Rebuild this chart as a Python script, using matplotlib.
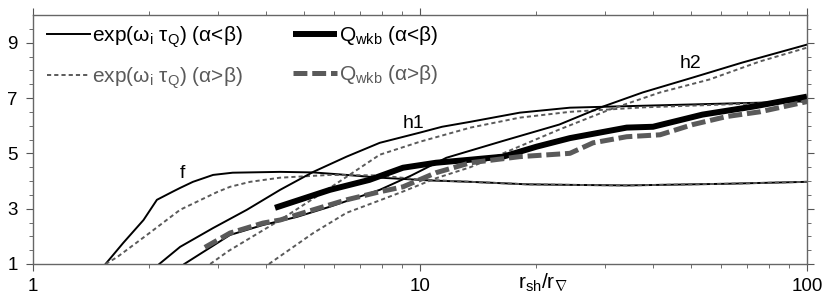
import matplotlib
matplotlib.use("Agg")
import matplotlib.pyplot as plt

plt.rcParams["font.family"] = ["Liberation Sans", "DejaVu Sans"]
plt.rcParams["mathtext.fontset"] = "custom"
plt.rcParams["mathtext.rm"] = "Liberation Sans"
plt.rcParams["mathtext.it"] = "Liberation Sans"
plt.rcParams["lines.scale_dashes"] = False

# Kurven (x = r_sh/r_grad)
f_x = [1.54, 1.71, 1.93, 2.09, 2.30, 2.40, 2.59, 2.92, 3.28, 4.35, 5.3, 6.46, 7.87, 8.9, 10.6, 13.5, 18.9, 24.4, 34.2, 62, 100]
f_y = [1.0, 1.76, 2.59, 3.32, 3.62, 3.75, 3.97, 4.22, 4.30, 4.33, 4.31, 4.22, 4.12, 4.08, 4.02, 3.97, 3.88, 3.86, 3.84, 3.9, 3.97]
fd_x = [1.54, 1.65, 2.0, 2.4, 2.99, 3.23, 3.64, 4.35, 5.85, 7.87, 10.0, 13.5, 18.9, 24.4, 34.2, 62, 100]
fd_y = [1.0, 1.25, 2.12, 2.96, 3.6, 3.79, 3.97, 4.12, 4.22, 4.2, 4.05, 3.97, 3.88, 3.86, 3.84, 3.9, 3.97]

h1_x = [2.12, 2.40, 2.92, 3.57, 4.35, 5.3, 6.46, 7.87, 10, 11.4, 13.5, 18.1, 24.4, 37.6, 75, 100]
h1_y = [1.0, 1.62, 2.30, 2.96, 3.68, 4.33, 4.88, 5.38, 5.75, 5.96, 6.14, 6.47, 6.65, 6.72, 6.83, 6.88]
h1d_x = [2.87, 3.2, 4.35, 5.85, 7.87, 10, 13.5, 18.1, 24.4, 37.6, 75, 100]
h1d_y = [1.0, 1.47, 2.59, 3.75, 4.95, 5.42, 5.93, 6.29, 6.5, 6.66, 6.81, 6.87]

h2_x = [2.46, 3.23, 3.93, 4.8, 5.85, 7.87, 9.5, 11.7, 16.4, 22.9, 29.7, 37.6, 50.7, 68, 100]
h2_y = [1.0, 2.05, 2.41, 2.7, 3.07, 3.68, 4.2, 4.84, 5.45, 6.04, 6.69, 7.2, 7.74, 8.28, 8.93]
h2d_x = [4.07, 5.3, 6.46, 7.87, 9.04, 11.0, 13.5, 16.4, 22.9, 30.9, 41.7, 56, 75.5, 100]
h2d_y = [1.0, 2.12, 2.85, 3.3, 3.62, 4.1, 4.5, 5.0, 5.86, 6.58, 7.2, 7.67, 8.32, 8.82]

q_x = [4.22, 5.85, 7.4, 9.04, 11.0, 13.5, 16.4, 20.0, 24.4, 34.2, 40, 53.7, 72.6, 100]
q_y = [3.03, 3.68, 4.04, 4.48, 4.66, 4.77, 4.88, 5.24, 5.55, 5.93, 5.96, 6.4, 6.69, 7.05]
qd_x = [2.78, 3.23, 3.93, 4.35, 5.3, 6.46, 7.87, 9.04, 11.0, 13.5, 18.1, 24.4, 28.0, 34.2, 41.7, 50.7, 62, 75.5, 100]
qd_y = [1.6, 2.12, 2.48, 2.59, 2.96, 3.32, 3.61, 3.79, 4.3, 4.66, 4.88, 5.0, 5.38, 5.6, 5.67, 6.04, 6.33, 6.5, 6.87]

grau = "#5a5a5a"
fs = 14

fig = plt.figure(figsize=(8.3, 3.07), dpi=100)
ax = fig.add_axes([33 / 830, 1 - 264 / 307, 774 / 830, 249 / 307])

dunn = dict(color=grau, lw=1.4, dashes=(3, 2.2))
duenn = dict(color="black", lw=1.4)

l1, = ax.plot(f_x, f_y, **duenn)
l2, = ax.plot(fd_x, fd_y, **dunn)
ax.plot(h1_x, h1_y, **duenn)
ax.plot(h1d_x, h1d_y, **dunn)
ax.plot(h2_x, h2_y, **duenn)
ax.plot(h2d_x, h2d_y, **dunn)
l3, = ax.plot(q_x, q_y, color="black", lw=4.3, solid_capstyle="butt")
l4, = ax.plot(qd_x, qd_y, color=grau, lw=3.6, dashes=(10, 3.5), dash_capstyle="butt")

ax.text(2.44, 4.12, "f", fontsize=fs, ha="center", va="baseline")
ax.text(9.6, 5.93, "h1", fontsize=fs, ha="center", va="baseline")
ax.text(50, 8.1, "h2", fontsize=fs, ha="center", va="baseline")

ax.set_xscale("log")
ax.set_xlim(1, 100)
ax.set_ylim(1, 10)
ax.set_xticks([1, 10, 100])
ax.set_xticklabels(["1", "10", "100"])
ax.set_yticks([1, 3, 5, 7, 9])
ax.set_yticks([1.5, 2, 2.5, 3.5, 4, 4.5, 5.5, 6, 6.5, 7.5, 8, 8.5, 9.5], minor=True)
ax.tick_params(which="both", direction="out", top=True, right=True, color="#555555",
               labelsize=13.5)
ax.tick_params(which="major", length=5)
ax.tick_params(which="minor", length=3)
ax.tick_params(axis="x", which="major", pad=5)
ax.tick_params(axis="y", which="major", pad=6)
ax.tick_params(axis="x", which="minor", labelbottom=False)
for s in ax.spines.values():
    s.set_color("#666666")
    s.set_linewidth(1.0)

ax.text(0.659, -0.03, r"r$_{\rm sh}$/r$_{\nabla}$", transform=ax.transAxes,
        fontsize=fs + 1, ha="center", va="top")

leg = ax.legend(
    [l1, l2, l3, l4],
    [r"exp(ω$_{\rm i}$ τ$_{\rm Q}$) (α<β)", r"exp(ω$_{\rm i}$ τ$_{\rm Q}$) (α>β)",
     r"Q$_{\rm wkb}$ (α<β)", r"Q$_{\rm wkb}$ (α>β)"],
    ncol=2, loc="upper left", bbox_to_anchor=(0.0, 1.018), frameon=False,
    fontsize=fs + 1, handlelength=2.1, handletextpad=0.1, columnspacing=2.4,
    labelspacing=0.75, borderaxespad=0.25,
)
for i, t in enumerate(leg.get_texts()):
    if i in (1, 3):
        t.set_color(grau)

fig.savefig("out.png", dpi=100)
